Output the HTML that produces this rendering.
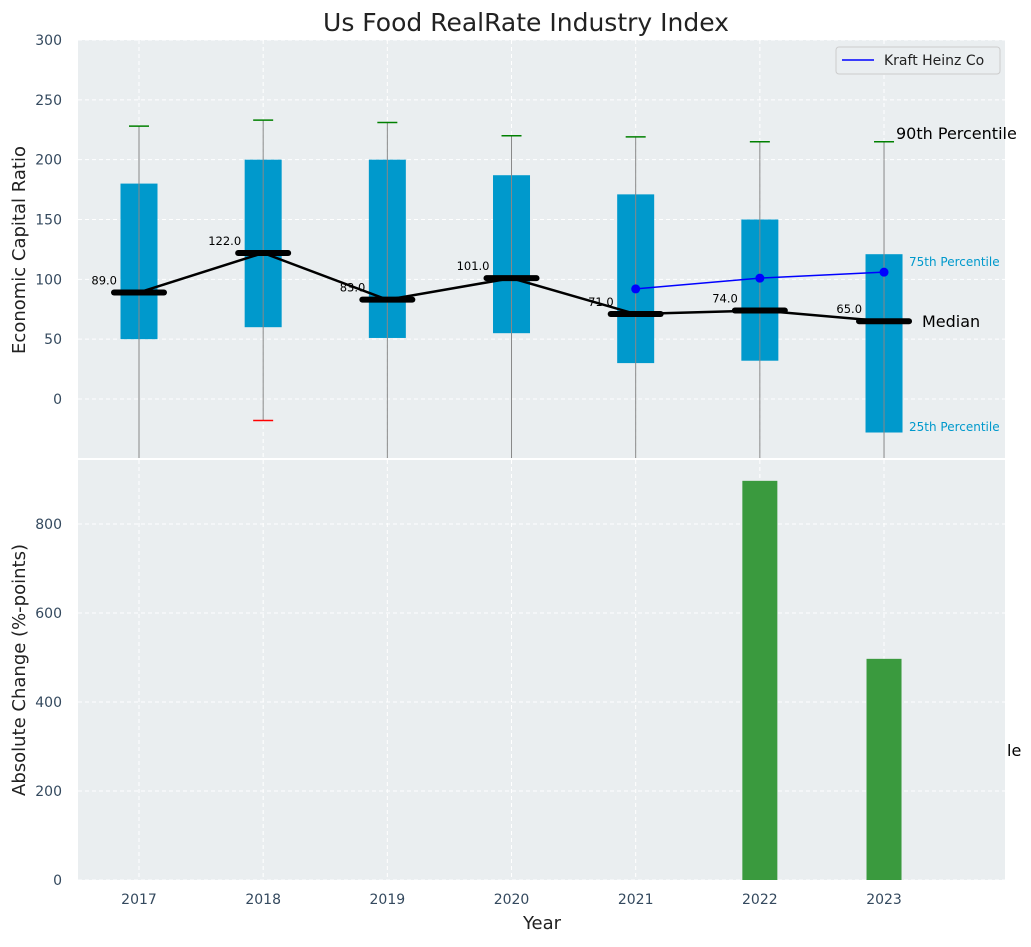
<!DOCTYPE html>
<html><head><meta charset="utf-8"><style>
body{margin:0;background:#fff;font-family:"Liberation Sans","DejaVu Sans",sans-serif}
svg text{font-family:"DejaVu Sans","Liberation Sans",sans-serif}
</style></head><body>
<svg id="c" width="1031" height="942" xmlns="http://www.w3.org/2000/svg"></svg>
<script>
const years=[2017,2018,2019,2020,2021,2022,2023];
const q25=[50,60,51,55,30,32,-28];
const q75=[180,200,200,187,171,150,121];
const p90=[228,233,231,220,219,215,215];
const p10=[-60,-18,-60,-60,-60,-60,-60];
const medians=[89,122,83,101,71,74,65];
const kraftYears=[2021,2022,2023];
const kraftVals=[92,101,106];
const changeVals=[0,0,0,0,0,897,497];
const topTicks=[0,50,100,150,200,250,300];
const botTicks=[0,200,400,600,800];

const NS="http://www.w3.org/2000/svg";
const svg=document.getElementById('c');
function el(t,a,p){const e=document.createElementNS(NS,t);for(const k in a)e.setAttribute(k,a[k]);(p||svg).appendChild(e);return e;}
const X0=78,X1=1005;
const xs=i=>139+i*124.17;
const yT=v=>399-v*1.1967;
const yB=v=>880-v*0.445;
const TC='#34495e';
let r=el('rect',{x:X0,y:40,width:X1-X0,height:418,fill:'#eaeef0'});

r=el('rect',{x:X0,y:460,width:X1-X0,height:420,fill:'#eaeef0'});

topTicks.forEach(t=>{el('line',{x1:X0,x2:X1,y1:yT(t),y2:yT(t),stroke:'#fff','stroke-dasharray':'4,3'});
 const tx=el('text',{x:62,y:yT(t)+5,'text-anchor':'end','font-size':14,fill:TC});tx.textContent=t;
 });
botTicks.forEach(t=>{el('line',{x1:X0,x2:X1,y1:yB(t),y2:yB(t),stroke:'#fff','stroke-dasharray':'4,3'});
 const tx=el('text',{x:62,y:yB(t)+5,'text-anchor':'end','font-size':14,fill:TC});tx.textContent=t;
 });
years.forEach((y,i)=>{const x=xs(i);
 el('line',{x1:x,x2:x,y1:40,y2:458,stroke:'#fff','stroke-dasharray':'4,3'});
 el('line',{x1:x,x2:x,y1:460,y2:880,stroke:'#fff','stroke-dasharray':'4,3'});
 const tx=el('text',{x:x,y:904,'text-anchor':'middle','font-size':14,fill:TC});tx.textContent=y;
 });
const defs=el('defs',{});const cp=el('clipPath',{id:'ct'},defs);el('rect',{x:X0,y:40,width:X1-X0,height:418},cp);
const g=el('g',{'clip-path':'url(#ct)'});
years.forEach((y,i)=>{const x=xs(i);
 const b=el('rect',{x:x-18.5,y:yT(q75[i]),width:37,height:yT(q25[i])-yT(q75[i]),fill:'#0099cc'},g);
 
 el('line',{x1:x,x2:x,y1:yT(p90[i]),y2:yT(p10[i]),stroke:'#888','stroke-width':1},g);
 el('line',{x1:x-10,x2:x+10,y1:yT(p90[i]),y2:yT(p90[i]),stroke:'green','stroke-width':1.5},g);
 if(p10[i]>-50)el('line',{x1:x-10,x2:x+10,y1:yT(p10[i]),y2:yT(p10[i]),stroke:'red','stroke-width':1.5},g);
});
let pts=years.map((y,i)=>xs(i)+','+yT(medians[i])).join(' ');
const ml=el('polyline',{points:pts,fill:'none',stroke:'#000','stroke-width':2.5},g);

years.forEach((y,i)=>{const x=xs(i);
 const m=el('line',{x1:x-25,x2:x+25,y1:yT(medians[i]),y2:yT(medians[i]),stroke:'#000','stroke-width':6,'stroke-linecap':'round'},g);
 
 const t=el('text',{x:x-22,y:yT(medians[i])-8,'text-anchor':'end','font-size':11.5,fill:'#000'});t.textContent=medians[i].toFixed(1);
 
});
const ki=kraftYears.map(y=>years.indexOf(y));
const kl=el('polyline',{points:ki.map((j,k)=>xs(j)+','+yT(kraftVals[k])).join(' '),fill:'none',stroke:'blue','stroke-width':1.5},g);

ki.forEach((j,k)=>{const c=el('circle',{cx:xs(j),cy:yT(kraftVals[k]),r:4.5,fill:'blue'},g);
 });
[['90th Percentile',896,139,16,'#000'],['75th Percentile',909,266,12,'#0099cc'],['Median',922,327,16,'#000'],['25th Percentile',909,431,12,'#0099cc'],['le',1007,756,16,'#000']].forEach(a=>{
 const t=el('text',{x:a[1],y:a[2],'font-size':a[3],fill:a[4]});t.textContent=a[0];
 });
years.forEach((y,i)=>{if(changeVals[i]<=0)return;
 const b=el('rect',{x:xs(i)-17.5,y:yB(changeVals[i]),width:35,height:880-yB(changeVals[i]),fill:'#3a9a3e'});
 });
const lg=el('g',{});
el('rect',{x:836,y:47,width:164,height:27,rx:3,fill:'#eaeef0',stroke:'#ccc'},lg);
el('line',{x1:842,x2:874,y1:60,y2:60,stroke:'blue','stroke-width':1.5},lg);
let t=el('text',{x:884,y:65,'font-size':14,fill:'#222'},lg);t.textContent='Kraft Heinz Co';
t=el('text',{x:526,y:31,'text-anchor':'middle','font-size':25,fill:'#222'});t.textContent='Us Food RealRate Industry Index';

t=el('text',{x:542,y:929,'text-anchor':'middle','font-size':18,fill:'#222'});t.textContent='Year';

t=el('text',{x:0,y:0,'text-anchor':'middle','font-size':18,fill:'#222',transform:'translate(25,250) rotate(-90)'});t.textContent='Economic Capital Ratio';

t=el('text',{x:0,y:0,'text-anchor':'middle','font-size':18,fill:'#222',transform:'translate(25,670) rotate(-90)'});t.textContent='Absolute Change (%-points)';

</script>
</body></html>
